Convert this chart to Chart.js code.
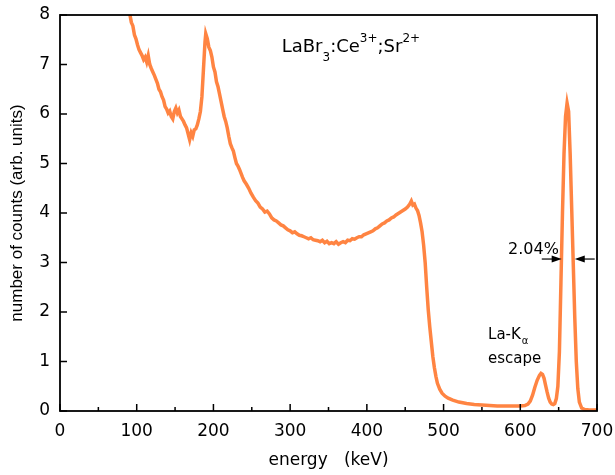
<!DOCTYPE html>
<html>
<head>
<meta charset="utf-8">
<script src="https://cdn.jsdelivr.net/npm/chart.js@4.4.0/dist/chart.umd.min.js"></script>
<style>
  body { margin: 0; background: #fff; }
  #wrap { width: 615px; height: 475px; }
</style>
</head>
<body>
<div id="wrap"><canvas id="spectrum"></canvas></div>
<script>
// energy (keV) and counts (arb. units)
const energia = [91, 93, 95, 97, 99, 101, 103, 105, 107, 109, 111, 113, 115, 117, 119, 121, 123, 125, 127, 129,
  131, 133, 135, 137, 139, 141, 143, 145, 147, 149, 151, 153, 155, 157, 159, 161, 163, 165, 167, 169,
  171, 173, 175, 177, 179, 181, 183, 185, 187, 189, 190, 192, 194, 196, 198, 200, 202, 204, 206, 208,
  210, 212, 214, 216, 218, 220, 222, 224, 226, 228, 230, 232, 234, 236, 238, 240, 243, 246, 249, 252,
  255, 258, 261, 264, 267, 270, 273, 276, 279, 282, 285, 288, 291, 294, 297, 300, 303, 306, 309, 312,
  315, 318, 321, 324, 327, 330, 333, 336, 339, 342, 345, 348, 351, 354, 357, 360, 363, 366, 369, 372,
  375, 378, 381, 384, 387, 390, 393, 396, 399, 402, 405, 408, 411, 414, 417, 420, 423, 426, 429, 432,
  435, 438, 441, 444, 447, 450, 453, 456, 458, 460, 462, 464, 466, 468, 470, 472, 474, 476, 478, 480,
  482, 484, 486, 488, 490, 492, 495, 498, 502, 506, 512, 520, 530, 540, 550, 560, 570, 580, 590, 600,
  606, 610, 613, 616, 619, 622, 625, 627, 629, 631, 633, 635, 637, 639, 641, 643, 645, 647, 649, 651,
  653, 655, 657, 659, 661, 663, 665, 667, 669, 671, 673, 675, 677, 680, 684, 690, 700];
const cuentas = [8.02, 7.85, 7.78, 7.6, 7.52, 7.4, 7.3, 7.24, 7.18, 7.1, 7.15, 7.05, 7.18, 7.0, 6.92, 6.85, 6.78, 6.7, 6.62, 6.5,
  6.45, 6.35, 6.28, 6.15, 6.1, 6.02, 6.06, 5.95, 5.9, 6.05, 6.12, 6.02, 6.08, 5.95, 5.9, 5.85, 5.78, 5.72, 5.6, 5.48,
  5.62, 5.55, 5.68, 5.7, 5.78, 5.9, 6.05, 6.35, 6.9, 7.45, 7.62, 7.52, 7.35, 7.28, 7.15, 6.95, 6.85, 6.65, 6.55, 6.4,
  6.25, 6.1, 5.95, 5.85, 5.72, 5.55, 5.4, 5.32, 5.25, 5.12, 5.0, 4.95, 4.88, 4.8, 4.72, 4.65, 4.58, 4.5, 4.4, 4.32,
  4.25, 4.2, 4.12, 4.08, 4.02, 4.04, 3.98, 3.9, 3.86, 3.84, 3.8, 3.76, 3.74, 3.7, 3.66, 3.64, 3.6, 3.62, 3.58, 3.55,
  3.54, 3.52, 3.5, 3.48, 3.5, 3.46, 3.45, 3.44, 3.42, 3.45, 3.4, 3.43, 3.38, 3.4, 3.38, 3.42, 3.37, 3.4, 3.42, 3.4,
  3.45, 3.44, 3.48, 3.47, 3.5, 3.52, 3.52, 3.56, 3.58, 3.6, 3.62, 3.64, 3.68, 3.7, 3.74, 3.78, 3.8, 3.84, 3.86, 3.9,
  3.92, 3.96, 3.99, 4.02, 4.05, 4.08, 4.12, 4.18, 4.24, 4.16, 4.18, 4.1, 4.05, 3.95, 3.8, 3.62, 3.35, 3.0, 2.5, 2.05,
  1.7, 1.4, 1.1, 0.88, 0.7, 0.56, 0.44, 0.36, 0.3, 0.26, 0.22, 0.18, 0.15, 0.13, 0.12, 0.11, 0.1, 0.1, 0.1, 0.1,
  0.11, 0.14, 0.2, 0.32, 0.48, 0.62, 0.72, 0.76, 0.74, 0.66, 0.52, 0.38, 0.26, 0.18, 0.14, 0.13, 0.15, 0.25, 0.5, 1.2,
  2.6, 4.0, 5.2, 5.95, 6.22, 6.05, 5.2, 4.1, 3.0, 1.9, 1.0, 0.45, 0.18, 0.06, 0.03, 0.02, 0.02];

const ticksX = [0, 100, 200, 300, 400, 500, 600, 700];
const ticksXMenores = [50, 150, 250, 350, 450, 550, 650];
const ticksY = [0, 1, 2, 3, 4, 5, 6, 7, 8];

// FWHM marker: arrows at half maximum (data units)
const fwhmY = 3.07;
const flechaIzq = [628, 654];
const flechaDer = [697, 671];

const fuente = '"DejaVu Sans", sans-serif';

function dibujarTrozos(ctx, x, y, trozos) {
    let cx = x;
    trozos.forEach(function(t) {
        ctx.font = t.size + 'px ' + fuente;
        ctx.fillText(t.t, cx, y + (t.dy || 0));
        cx += ctx.measureText(t.t).width + (t.gap || 0);
    });
}

function flecha(ctx, x0, x1, y) {
    const dir = x1 > x0 ? 1 : -1;
    ctx.beginPath();
    ctx.moveTo(x0, y);
    ctx.lineTo(x1 - dir * 8, y);
    ctx.stroke();
    ctx.beginPath();
    ctx.moveTo(x1, y);
    ctx.lineTo(x1 - dir * 10, y - 3.5);
    ctx.lineTo(x1 - dir * 10, y + 3.5);
    ctx.closePath();
    ctx.fill();
}

const marcoYEtiquetas = {
    id: 'marcoYEtiquetas',
    afterDatasetsDraw(chart) {
        const ctx = chart.ctx;
        const a = chart.chartArea;
        const x = chart.scales.x;
        const y = chart.scales.y;
        ctx.save();
        ctx.strokeStyle = '#000';
        ctx.fillStyle = '#000';
        ctx.lineWidth = 1.8;
        ctx.strokeRect(a.left, a.top, a.right - a.left, a.bottom - a.top);

        ctx.lineWidth = 1.5;
        ctx.beginPath();
        ticksX.forEach(function(v) {
            const px = x.getPixelForValue(v);
            ctx.moveTo(px, a.bottom);
            ctx.lineTo(px, a.bottom - 7);
        });
        ticksXMenores.forEach(function(v) {
            const px = x.getPixelForValue(v);
            ctx.moveTo(px, a.bottom);
            ctx.lineTo(px, a.bottom - 4);
        });
        ticksY.forEach(function(v) {
            const py = y.getPixelForValue(v);
            ctx.moveTo(a.left, py);
            ctx.lineTo(a.left + 7, py);
        });
        ctx.stroke();

        // labels
        ctx.textBaseline = 'alphabetic';
        ctx.textAlign = 'left';
        dibujarTrozos(ctx, x.getPixelForValue(289), y.getPixelForValue(7.25), [
            { t: 'LaBr', size: 18 },
            { t: '3', size: 12, dy: 9 },
            { t: ':Ce', size: 18 },
            { t: '3+', size: 12, dy: -10 },
            { t: ';Sr', size: 18 },
            { t: '2+', size: 12, dy: -10 }
        ]);
        dibujarTrozos(ctx, x.getPixelForValue(584), y.getPixelForValue(3.17), [{ t: '2.04%', size: 16 }]);
        dibujarTrozos(ctx, x.getPixelForValue(558), y.getPixelForValue(1.46), [
            { t: 'La-K', size: 15, gap: 1 },
            { t: 'α', size: 10, dy: 5 }
        ]);
        dibujarTrozos(ctx, x.getPixelForValue(558), y.getPixelForValue(0.97), [{ t: 'escape', size: 15 }]);

        ctx.lineWidth = 1.2;
        const py = y.getPixelForValue(fwhmY);
        flecha(ctx, x.getPixelForValue(flechaIzq[0]), x.getPixelForValue(flechaIzq[1]), py);
        flecha(ctx, x.getPixelForValue(flechaDer[0]), x.getPixelForValue(flechaDer[1]), py);
        ctx.restore();
    }
};

const ctx = document.getElementById('spectrum').getContext('2d');
new Chart(ctx, {
    type: 'scatter',
    data: {
        datasets: [{
            data: energia.map(function(e, i) { return { x: e, y: cuentas[i] }; }),
            showLine: true,
            borderColor: '#ff8442',
            backgroundColor: '#ff8442',
            borderWidth: 3.5,
            pointRadius: 0,
            tension: 0
        }]
    },
    options: {
        responsive: true,
        maintainAspectRatio: false,
        animation: false,
        layout: { padding: { top: 15, right: 18, left: 0, bottom: 0 } },
        plugins: { legend: { display: false }, tooltip: { enabled: false } },
        scales: {
            x: {
                type: 'linear',
                min: 0,
                max: 700,
                afterBuildTicks: function(s) { s.ticks = ticksX.map(function(v) { return { value: v }; }); },
                afterFit: function(s) { s.height = 64; s.paddingLeft = 0; s.paddingRight = 0; },
                grid: { display: false, drawTicks: false },
                border: { display: false },
                ticks: { color: '#000', padding: 10, font: { family: fuente, size: 17 }, maxRotation: 0 },
                title: {
                    display: true,
                    text: 'energy\u00a0\u00a0\u00a0(keV)',
                    color: '#000',
                    font: { family: fuente, size: 17 },
                    padding: { top: 0, bottom: 4 }
                }
            },
            y: {
                min: 0,
                max: 8,
                afterBuildTicks: function(s) { s.ticks = ticksY.map(function(v) { return { value: v }; }); },
                afterFit: function(s) { s.width = 60; s.paddingTop = 0; s.paddingBottom = 0; },
                grid: { display: false, drawTicks: false },
                border: { display: false },
                ticks: { color: '#000', padding: 10, font: { family: fuente, size: 17 } },
                title: {
                    display: true,
                    text: 'number of counts (arb. units)',
                    color: '#000',
                    font: { family: '"Liberation Sans", Arial, sans-serif', size: 17 },
                    padding: { top: 7, bottom: 0 }
                }
            }
        }
    },
    plugins: [marcoYEtiquetas]
});
</script>
</body>
</html>
